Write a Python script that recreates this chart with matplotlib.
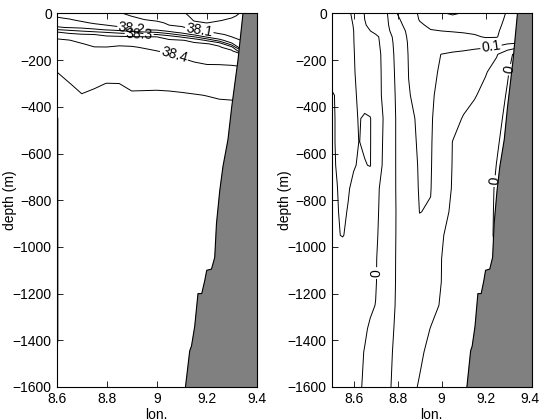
import numpy as np
import matplotlib
matplotlib.use("Agg")
import matplotlib.pyplot as plt

plt.rcParams['font.family'] = ['Liberation Sans', 'DejaVu Sans']
plt.rcParams['font.size'] = 10
plt.rcParams['axes.unicode_minus'] = True

nan = np.nan

# ---- salinity section (left): stations and isohaline depths (m)
sal_lon = [8.6, 8.65, 8.7, 8.75, 8.8, 8.85, 8.9, 8.95, 9.0, 9.05, 9.1, 9.15, 9.2, 9.25, 9.3, 9.35]
sal_surface = [38.185, 38.175, 38.16, 38.145, 38.13, 38.11, 38.08, 38.06, 38.05, 38.04, 38.02, 37.96, 37.94, 37.95, 37.97, 38.02]
sal_levels = [38.0, 38.1, 38.2, 38.25, 38.3, 38.35, 38.4, 38.5]
z_380 = [nan, nan, nan, nan, nan, nan, nan, nan, nan, nan, nan, 35, 41, 32, 19, nan]
z_381 = [nan, nan, nan, nan, nan, nan, 12, 27, 34, 50, 58, 66, 78, 88, 100, 150]
z_382 = [16, 24, 35, 45, 50, 58, 68, 70, 72, 78, 85, 93, 102, 112, 128, 158]
z_3825 = [59, 62, 65, 68, 71, 74, 77, 79, 81, 86, 93, 100, 109, 118, 135, 161]
z_383 = [69, 72, 75, 78, 81, 84, 87, 89, 90, 95, 101, 108, 116, 125, 142, 164]
z_3835 = [79, 83, 87, 90, 93, 95, 97, 99, 100, 105, 110, 117, 124, 132, 150, 168]
z_384 = [105, 112, 125, 142, 143, 136, 138, 148, 160, 172, 192, 210, 220, 220, 222, 228]
z_385 = [250, 290, 342, 312, 296, 300, 323, 320, 317, 320, 327, 340, 352, 365, 372, 380]
deep_z = [400, 450, 1400, 1600]
deep_edge = [38.505, 38.497, 38.497, 38.51]   # westernmost station
deep_open = [38.52, 38.53, 38.53, 38.525]     # all other stations
sal_rows = [0, 10, 20, 30, 40, 50, 60, 70, 80, 90, 100, 115, 130, 145, 160, 180,
            200, 225, 250, 300, 350, 400, 450, 500, 800, 1200, 1400, 1600]
sal_labels = {38.2: [(8.9, -66)], 38.3: [(8.93, -88)], 38.1: [(9.17, -72)], 38.4: [(9.07, -176)]}

# ---- velocity section (right): profiles along depth rows, (lon, velocity) pairs
vel_lon = [8.5, 8.525, 8.55, 8.575, 8.6, 8.625, 8.65, 8.675, 8.7, 8.75, 8.8, 8.85,
           8.9, 8.95, 9.0, 9.05, 9.1, 9.15, 9.2, 9.25, 9.3, 9.35]
vel_depth = [0, 25, 50, 75, 100, 125, 175, 250, 350, 450, 550, 650, 750, 850, 950,
             1050, 1150, 1250, 1350, 1450, 1600]
vel_profiles = [
    [(8.5, -0.075), (8.594, -0.05), (8.646, 0), (8.759, 0.05), (8.797, 0.1), (8.887, 0.15), (9.0, 0.195), (9.05, 0.205), (9.1, 0.196), (9.2, 0.175), (9.292, 0.15), (9.35, 0.13)],
    [(8.5, -0.075), (8.597, -0.05), (8.650, 0), (8.764, 0.05), (8.806, 0.1), (8.890, 0.15), (9.05, 0.185), (9.2, 0.17), (9.285, 0.15), (9.35, 0.13)],
    [(8.5, -0.075), (8.599, -0.05), (8.654, 0), (8.767, 0.05), (8.815, 0.1), (8.909, 0.15), (9.05, 0.17), (9.2, 0.165), (9.277, 0.15), (9.35, 0.13)],
    [(8.5, -0.075), (8.600, -0.05), (8.676, 0), (8.771, 0.05), (8.825, 0.1), (8.95, 0.148), (9.05, 0.152), (9.2, 0.16), (9.272, 0.15), (9.35, 0.125)],
    [(8.5, -0.075), (8.601, -0.05), (8.725, 0), (8.773, 0.05), (8.830, 0.1), (8.95, 0.135), (9.1, 0.14), (9.15, 0.145), (9.2, 0.153), (9.25, 0.153), (9.3, 0.125), (9.35, 0.11)],
    [(8.5, -0.075), (8.602, -0.05), (8.73, 0), (8.775, 0.05), (8.836, 0.1), (8.95, 0.13), (9.1, 0.135), (9.2, 0.13), (9.3, 0.11), (9.35, 0.105)],
    [(8.5, -0.07), (8.606, -0.05), (8.737, 0), (8.777, 0.05), (8.84, 0.1), (8.92, 0.115), (8.995, 0.1), (9.1, 0.085), (9.27, 0.05), (9.315, 0), (9.35, -0.02)],
    [(8.5, -0.07), (8.61, -0.05), (8.737, 0), (8.781, 0.05), (8.846, 0.1), (8.92, 0.112), (8.983, 0.1), (9.217, 0.05), (9.305, 0), (9.35, -0.02)],
    [(8.5, -0.045), (8.55, -0.065), (8.616, -0.05), (8.736, 0), (8.786, 0.05), (8.852, 0.1), (8.91, 0.11), (8.972, 0.1), (9.164, 0.05), (9.29, 0), (9.35, -0.02)],
    [(8.5, -0.045), (8.56, -0.065), (8.62, -0.05), (8.635, -0.045), (8.645, -0.05), (8.66, -0.062), (8.678, -0.05), (8.734, 0), (8.789, 0.05), (8.861, 0.1), (8.915, 0.108), (8.969, 0.1), (9.087, 0.05), (9.277, 0), (9.35, -0.02)],
    [(8.5, -0.045), (8.56, -0.065), (8.624, -0.05), (8.635, -0.045), (8.645, -0.05), (8.66, -0.062), (8.678, -0.05), (8.73, 0), (8.789, 0.05), (8.866, 0.1), (8.918, 0.107), (8.97, 0.1), (9.047, 0.05), (9.262, 0), (9.35, -0.02)],
    [(8.5, -0.045), (8.519, -0.05), (8.55, -0.06), (8.585, -0.055), (8.61, -0.05), (8.64, -0.045), (8.655, -0.05), (8.667, -0.056), (8.678, -0.05), (8.726, 0), (8.789, 0.05), (8.872, 0.1), (8.92, 0.105), (8.97, 0.1), (9.043, 0.05), (9.248, 0), (9.35, -0.02)],
    [(8.5, -0.045), (8.528, -0.05), (8.555, -0.06), (8.58, -0.05), (8.65, -0.03), (8.724, 0), (8.789, 0.05), (8.877, 0.1), (8.92, 0.104), (8.962, 0.1), (9.037, 0.05), (9.239, 0), (9.35, -0.03)],
    [(8.5, -0.045), (8.535, -0.05), (8.552, -0.055), (8.57, -0.05), (8.65, -0.025), (8.722, 0), (8.789, 0.05), (8.894, 0.1), (8.92, 0.102), (8.947, 0.1), (9.02, 0.05), (9.237, 0), (9.35, -0.03)],
    [(8.5, -0.045), (8.54, -0.05), (8.548, -0.052), (8.556, -0.05), (8.65, -0.022), (8.718, 0), (8.786, 0.05), (8.9, 0.092), (9.006, 0.05), (9.236, 0), (9.35, -0.03)],
    [(8.5, -0.04), (8.715, 0), (8.782, 0.05), (8.9, 0.085), (9.0, 0.05), (9.25, 0), (9.35, -0.03)],
    [(8.5, -0.04), (8.712, 0), (8.779, 0.05), (8.9, 0.08), (8.998, 0.05), (9.25, 0), (9.35, -0.03)],
    [(8.5, -0.04), (8.699, 0), (8.775, 0.05), (8.9, 0.075), (8.983, 0.05), (9.25, 0), (9.35, -0.03)],
    [(8.5, -0.04), (8.667, 0), (8.771, 0.05), (8.88, 0.07), (8.945, 0.05), (9.25, 0), (9.35, -0.03)],
    [(8.5, -0.04), (8.647, 0), (8.766, 0.05), (8.85, 0.065), (8.915, 0.05), (9.25, 0), (9.35, -0.03)],
    [(8.5, -0.04), (8.639, 0), (8.759, 0.05), (8.83, 0.06), (8.887, 0.05), (9.25, 0), (9.35, -0.03)],
]
vel_levels = [-0.05, 0, 0.05, 0.1, 0.15, 0.2]
vel_labels = {0.1: [(9.222, -125)], 0: [(9.306, -240), (9.24, -718), (8.714, -1112)]}

# ---- bottom topography
bathy_lon = [9.345, 9.325, 9.30, 9.285, 9.265, 9.252, 9.239, 9.232, 9.219, 9.20, 9.192,
             9.18, 9.165, 9.152, 9.139, 9.132, 9.115]
bathy_dep = [0, -200, -400, -540, -655, -760, -900, -1045, -1095, -1100, -1145,
             -1200, -1200, -1340, -1425, -1445, -1600]

# build the gridded salinity field from the station profiles
iso = [z_380, z_381, z_382, z_3825, z_383, z_3835, z_384, z_385]
S = np.zeros((len(sal_rows), len(sal_lon)))
for j in range(len(sal_lon)):
    zz = [0.0]
    ss = [sal_surface[j]]
    for lev, z in zip(sal_levels, iso):
        if not np.isnan(z[j]):
            zz.append(z[j])
            ss.append(lev)
    zz += deep_z
    ss += deep_edge if j == 0 else deep_open
    S[:, j] = np.interp(sal_rows, zz, ss)

# gridded velocity field
V = np.zeros((len(vel_depth), len(vel_lon)))
for i, prof in enumerate(vel_profiles):
    V[i, :] = np.interp(vel_lon, [p[0] for p in prof], [p[1] for p in prof])

fig = plt.figure(figsize=(5.39, 4.2), dpi=100)
ax1 = fig.add_axes([0.1052, 0.0786, 0.3711, 0.8893])
ax2 = fig.add_axes([0.6154, 0.0786, 0.3711, 0.8893])


def draw(ax, x, y, field, levels, labels):
    # one contour set per level so each can carry its own hand-placed labels
    for lev in levels:
        cs = ax.contour(x, y, field, levels=[lev], colors='k',
                        linewidths=0.7, linestyles='solid')
        if lev in labels:
            cs.clabel(manual=labels[lev], fmt='%g', fontsize=10, inline_spacing=2)


draw(ax1, sal_lon, -np.array(sal_rows), S, sal_levels, sal_labels)
draw(ax2, vel_lon, -np.array(vel_depth), V, vel_levels, vel_labels)

for ax, xl in ((ax1, (8.6, 9.4)), (ax2, (8.5, 9.41))):
    ax.fill_betweenx(bathy_dep, bathy_lon, 9.5, color='#808080', zorder=3)
    ax.plot(bathy_lon, bathy_dep, color='k', lw=0.8, zorder=4)
    ax.set_xlim(*xl)
    ax.set_ylim(-1600, 0)
    ax.set_xticks([8.6, 8.8, 9.0, 9.2, 9.4])
    ax.set_xticklabels(['8.6', '8.8', '9', '9.2', '9.4'])
    yt = np.arange(-1600, 1, 200)
    ax.set_yticks(yt)
    ax.set_yticklabels(['\u2212%d' % -v if v < 0 else '0' for v in yt])
    ax.tick_params(direction='in', top=True, right=True, length=4, width=0.6, labelsize=10)
    for sp in ax.spines.values():
        sp.set_linewidth(0.8)
        sp.set_zorder(5)
    ax.set_xlabel('lon.')
    ax.xaxis.set_label_coords(0.5, -0.055)
    ax.set_ylabel('depth (m)')
    ax.yaxis.set_label_coords(-0.2, 0.5)

fig.savefig("out.png", dpi=100)
